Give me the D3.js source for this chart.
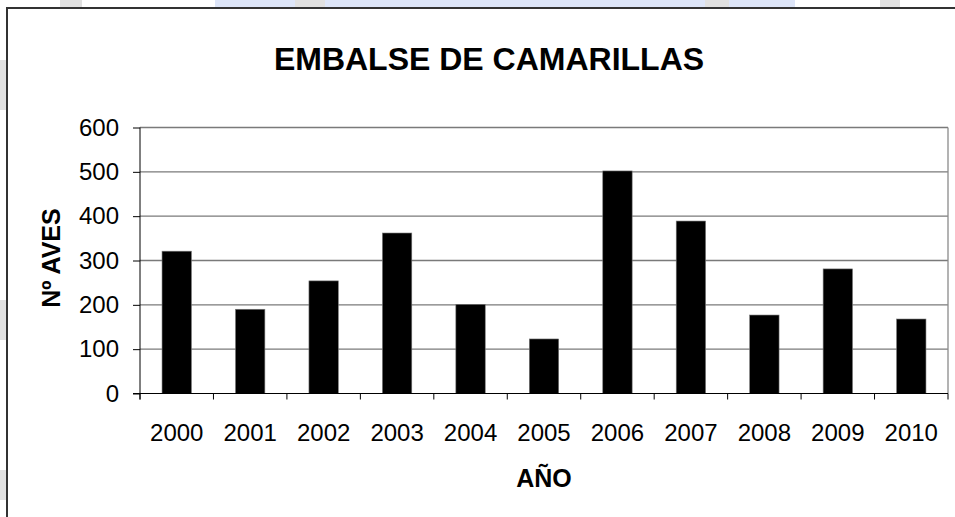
<!DOCTYPE html>
<html>
<head>
<meta charset="utf-8">
<script src="https://cdn.jsdelivr.net/npm/d3@7"></script>
<style>
  html, body { margin: 0; padding: 0; background: #fff; }
  #chart { width: 955px; height: 517px; }
  text { font-family: "Liberation Sans", Arial, sans-serif; fill: #000; }
</style>
</head>
<body>
<div id="chart"></div>
<script>
// data
const years  = ['2000', '2001', '2002', '2003', '2004', '2005', '2006', '2007', '2008', '2009', '2010'];
const birds  = [321, 190, 254, 362, 201, 123, 502, 389, 177, 281, 168];
const yTicks = [0, 100, 200, 300, 400, 500, 600];

const width = 955, height = 517;
const plot = { left: 140, right: 948, top: 127.5, bottom: 393.5 };

const svg = d3.select('#chart').append('svg')
  .attr('width', width)
  .attr('height', height);

// background strip behind the framed chart (faint page watermark)
svg.append('rect').attr('x', 0).attr('y', 0).attr('width', width).attr('height', height).attr('fill', '#fff');
svg.append('rect').attr('x', 215).attr('y', 0).attr('width', 580).attr('height', 8).attr('fill', '#dde5f8');
[[60, 0, 22, 8], [295, 0, 30, 8], [705, 0, 24, 8], [880, 0, 20, 8], [0, 60, 6, 50], [0, 300, 6, 40], [0, 470, 6, 30]]
  .forEach(r => svg.append('rect')
    .attr('x', r[0]).attr('y', r[1]).attr('width', r[2]).attr('height', r[3])
    .attr('fill', '#e0e0e0'));

// chart frame
svg.append('rect')
  .attr('x', 7).attr('y', 8)
  .attr('width', width + 10).attr('height', height + 10)
  .attr('fill', '#fff')
  .attr('stroke', '#333')
  .attr('stroke-width', 2);

// scales
const x = d3.scaleBand()
  .domain(years)
  .range([plot.left, plot.right])
  .paddingInner(0.6)
  .paddingOuter(0.3);

const xCat = d3.scaleBand().domain(years).range([plot.left, plot.right]);

const y = d3.scaleLinear()
  .domain([0, 600])
  .range([plot.bottom, plot.top]);

// gridlines
svg.append('g')
  .selectAll('line')
  .data(yTicks.filter(d => d > 0))
  .join('line')
    .attr('x1', plot.left).attr('x2', plot.right)
    .attr('y1', d => y(d)).attr('y2', d => y(d))
    .attr('stroke', '#7a7a7a')
    .attr('stroke-width', 1.3);

// right edge of plot area
svg.append('line')
  .attr('x1', plot.right).attr('x2', plot.right)
  .attr('y1', plot.top).attr('y2', plot.bottom)
  .attr('stroke', '#8a8a8a').attr('stroke-width', 1.3);

// bars
svg.append('g')
  .selectAll('rect')
  .data(years.map((yr, i) => ({ yr, v: birds[i] })))
  .join('rect')
    .attr('x', d => x(d.yr))
    .attr('width', x.bandwidth())
    .attr('y', d => y(d.v))
    .attr('height', d => y(0) - y(d.v))
    .attr('fill', '#000')
    .attr('stroke', '#777')
    .attr('stroke-width', 0.6);

// y axis
const yAxis = svg.append('g')
  .attr('transform', `translate(${plot.left},0)`)
  .call(d3.axisLeft(y).tickValues(yTicks).tickSize(7).tickPadding(14));
yAxis.select('.domain').attr('stroke', '#000').attr('d', `M0,${plot.top}V${plot.bottom + 6}`);
yAxis.selectAll('.tick line').attr('stroke', '#000');
yAxis.selectAll('.tick text')
  .attr('font-size', 24)
  .attr('font-family', '"Liberation Sans", Arial, sans-serif')
  .attr('fill', '#000');

// x axis: ticks on category boundaries
svg.append('line')
  .attr('x1', plot.left - 7).attr('x2', plot.right)
  .attr('y1', plot.bottom).attr('y2', plot.bottom)
  .attr('stroke', '#000');

const bounds = years.map(yr => xCat(yr)).concat([plot.right]);
svg.append('g')
  .selectAll('line')
  .data(bounds)
  .join('line')
    .attr('x1', d => d).attr('x2', d => d)
    .attr('y1', plot.bottom).attr('y2', plot.bottom + 6)
    .attr('stroke', '#000');

svg.append('g')
  .selectAll('text')
  .data(years)
  .join('text')
    .attr('x', d => xCat(d) + xCat.bandwidth() / 2)
    .attr('y', 441)
    .attr('text-anchor', 'middle')
    .attr('font-size', 24)
    .text(d => d);

// title
svg.append('text')
  .attr('x', 489)
  .attr('y', 70)
  .attr('text-anchor', 'middle')
  .attr('font-size', 32)
  .attr('font-weight', 'bold')
  .text('EMBALSE DE CAMARILLAS');

// axis titles
svg.append('text')
  .attr('x', 544)
  .attr('y', 487)
  .attr('text-anchor', 'middle')
  .attr('font-size', 25)
  .attr('font-weight', 'bold')
  .text('AÑO');

svg.append('text')
  .attr('transform', 'translate(60,258) rotate(-90)')
  .attr('text-anchor', 'middle')
  .attr('font-size', 25)
  .attr('font-weight', 'bold')
  .text('Nº AVES');
</script>
</body>
</html>
